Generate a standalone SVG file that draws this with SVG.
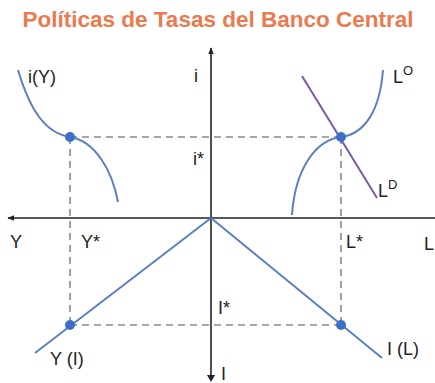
<svg xmlns="http://www.w3.org/2000/svg" width="435" height="383" viewBox="0 0 435 383">
<style>
.t{font-family:"Liberation Sans",Arial,sans-serif;font-size:18px;fill:#222}
.sup{font-size:13px}
.axis{stroke:#222;stroke-width:1.6;fill:none}
.curve{stroke:#5b7fc0;stroke-width:2;fill:none}
.dash{stroke:#8a8a8a;stroke-width:1.6;stroke-dasharray:7,5;fill:none}
.dot{fill:#3d6fc9}
</style>
<defs>
<marker id="ah" viewBox="0 0 10 10" refX="9" refY="5" markerWidth="7" markerHeight="7" orient="auto" markerUnits="userSpaceOnUse">
<path d="M0,1 L10,5 L0,9 Z" fill="#222"/>
</marker>
</defs>
<rect width="435" height="383" fill="#fff"/>
<text x="218" y="27" text-anchor="middle" style="font-family:'Liberation Sans',Arial,sans-serif;font-size:22.5px;font-weight:bold;fill:#ec7a50">Políticas de Tasas del Banco Central</text>
<g id="axes">
<line class="axis" x1="211" y1="378" x2="211" y2="48" marker-end="url(#ah)"/>
<line class="axis" x1="435" y1="218" x2="8" y2="218" marker-end="url(#ah)"/>
<path d="M207,375 L211,382 L215,375 Z" fill="#222"/>
</g>
<g id="connectors">
<line class="dash" x1="70" y1="137" x2="341" y2="137"/>
<line class="dash" x1="70" y1="137" x2="70" y2="325"/>
<line class="dash" x1="341" y1="137" x2="341" y2="325"/>
<line class="dash" x1="70" y1="325" x2="341" y2="325"/>
</g>
<g id="iY">
<path class="curve" d="M18,70 C30,110 45,133 70,137 C95,141 112,170 118,202"/>
<circle class="dot" cx="70" cy="137" r="5"/>
<text class="t" x="28" y="83">i(Y)</text>
</g>
<g id="LO">
<path class="curve" d="M292,215 C295,170 315,140 341,137 C365,134 380,110 383,70"/>
<text class="t" x="393" y="83">L<tspan class="sup" dy="-8">O</tspan></text>
</g>
<g id="LD">
<line x1="302" y1="76" x2="377" y2="198" stroke="#7a5aa6" stroke-width="2"/>
<circle class="dot" cx="341" cy="137" r="5"/>
<text class="t" x="378" y="197">L<tspan class="sup" dy="-8">D</tspan></text>
</g>
<g id="YI">
<line class="curve" x1="211" y1="218" x2="35" y2="353"/>
<circle class="dot" cx="70" cy="325" r="5"/>
<text class="t" x="50" y="365">Y (I)</text>
</g>
<g id="IL">
<line class="curve" x1="211" y1="218" x2="382" y2="358"/>
<circle class="dot" cx="341" cy="325" r="5"/>
<text class="t" x="387" y="355">I (L)</text>
</g>
<g id="labels">
<text class="t" x="194" y="82">i</text>
<text class="t" x="193" y="165">i*</text>
<text class="t" x="10" y="248">Y</text>
<text class="t" x="81" y="248">Y*</text>
<text class="t" x="346" y="248">L*</text>
<text class="t" x="424" y="250">L</text>
<text class="t" x="218" y="314">I*</text>
<text class="t" x="221" y="380">I</text>
</g>
</svg>
